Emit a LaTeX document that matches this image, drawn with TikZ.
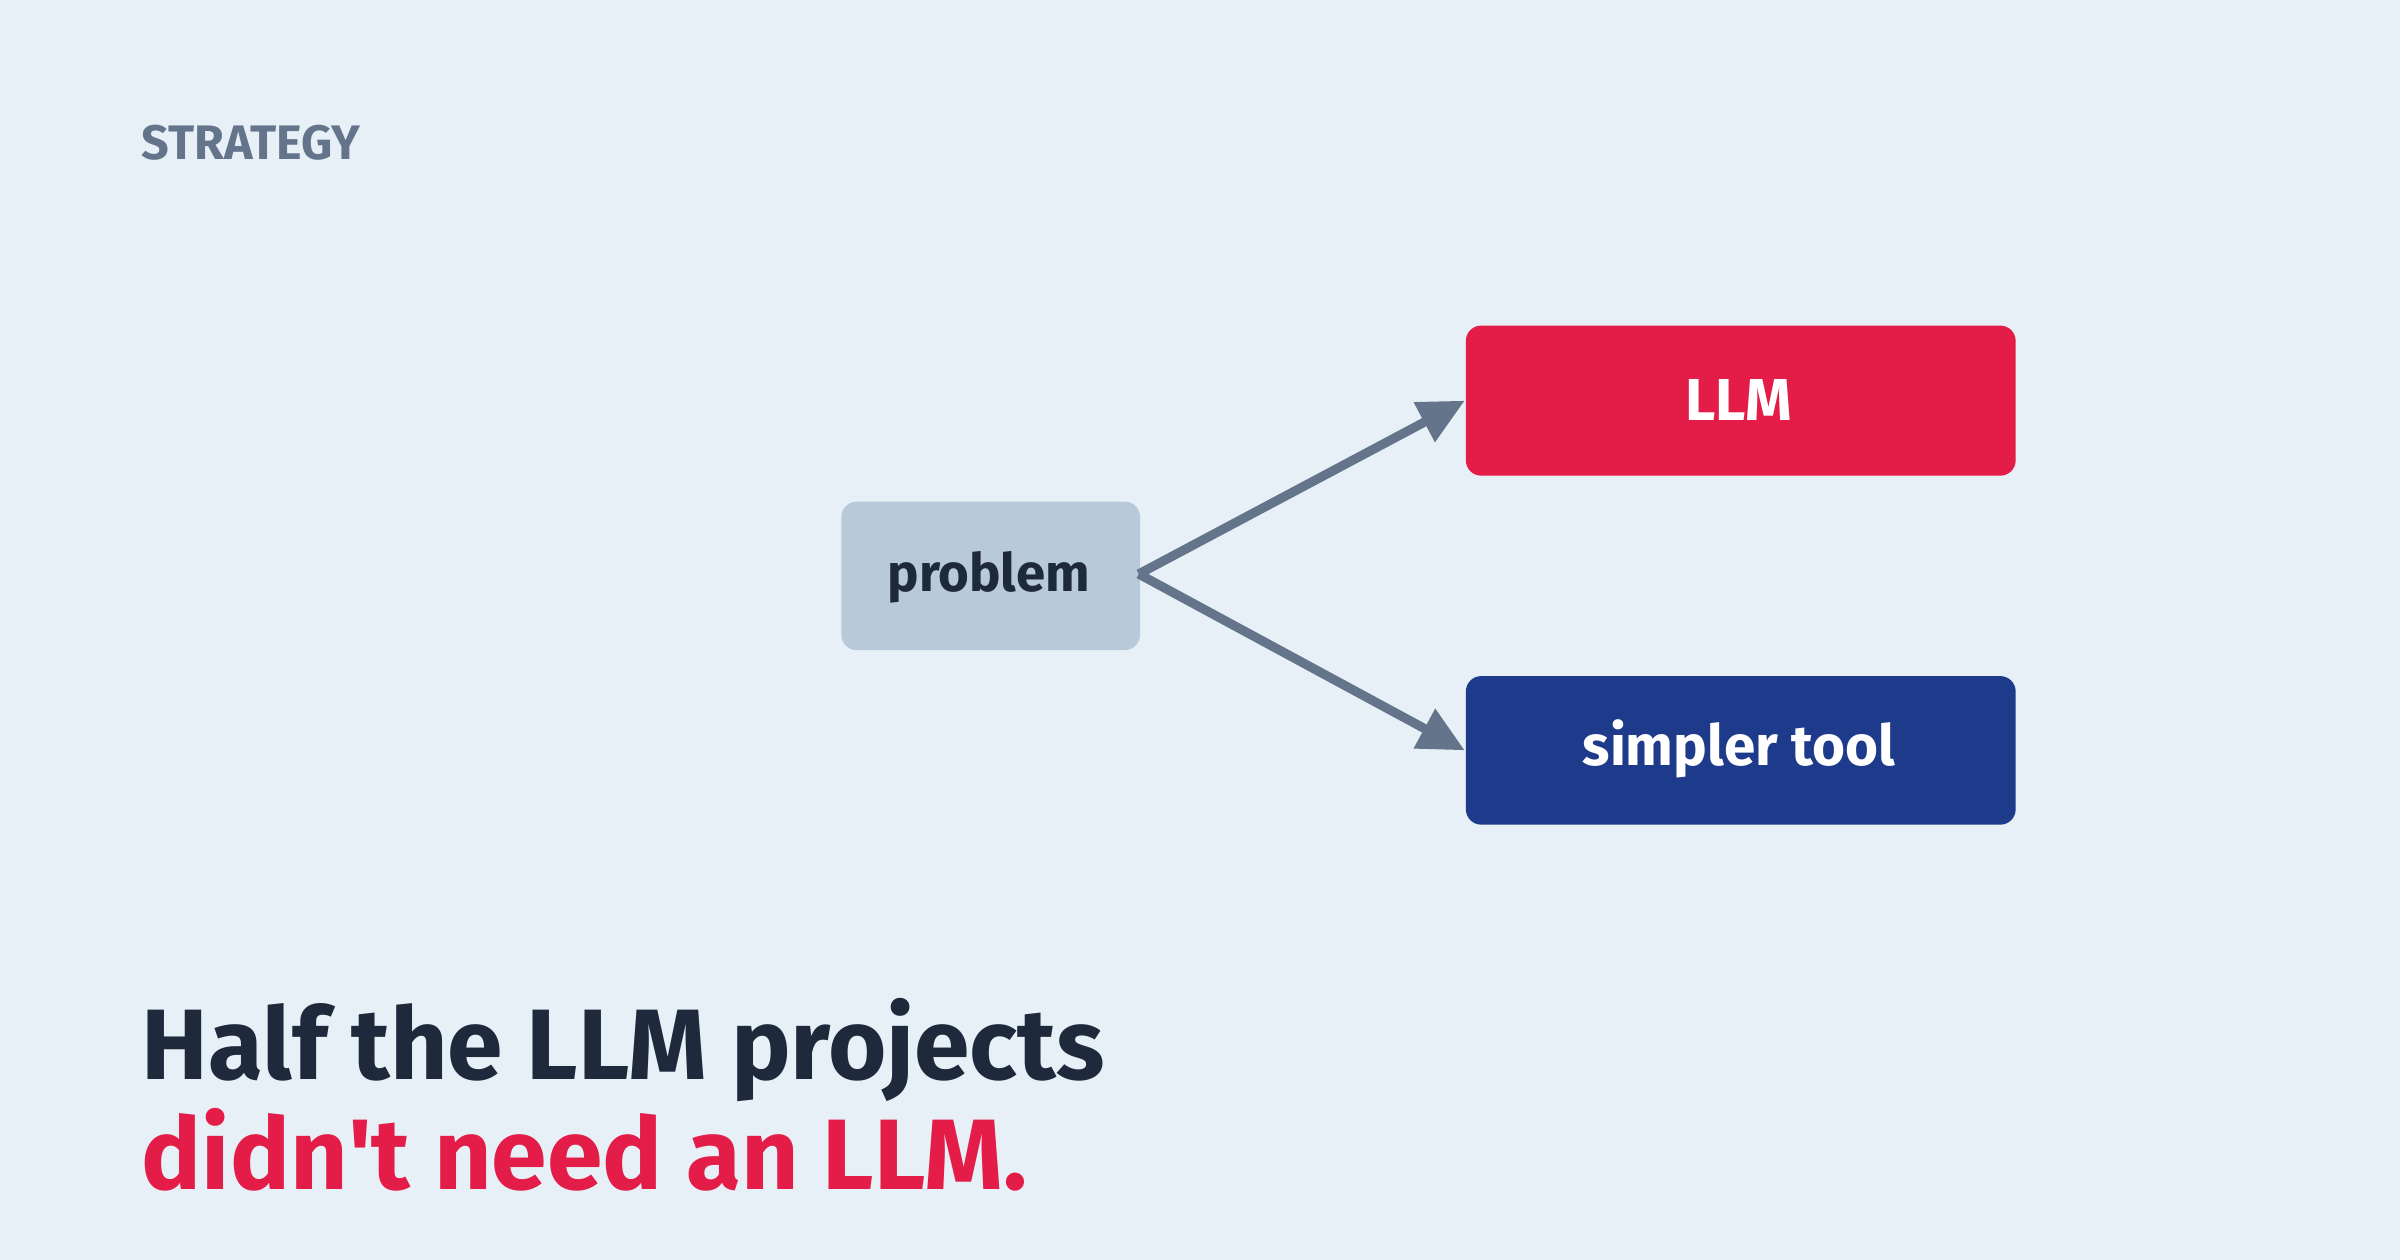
\documentclass[tikz,border=0pt]{standalone}
\usepackage{fontspec}
\setmainfont{Fira Sans}
\usetikzlibrary{arrows.meta}
\definecolor{bg}{HTML}{E8F0F7}
\definecolor{slate}{HTML}{64748B}
\definecolor{dark}{HTML}{1E293B}
\definecolor{llmred}{HTML}{E31C48}
\definecolor{navy}{HTML}{1E3A8A}
\definecolor{probfill}{HTML}{B8C9D9}
\begin{document}
\begin{tikzpicture}[x=0.01cm,y=-0.01cm,
  box/.style={rounded corners=0.1cm,inner sep=0,anchor=north west},
  arr/.style={draw=slate,line width=0.06cm,-{Triangle[length=0.3cm,width=0.28cm]}}]
\fill[bg] (0,0) rectangle (1568,823);
\useasboundingbox (0,0) rectangle (1568,823);
\node[anchor=base west,inner sep=0,text=slate,font=\fontsize{9}{11}\selectfont\bfseries] (tag) at (92,104) {STRATEGY};
\node[box,fill=probfill,minimum width=1.95cm,minimum height=0.97cm] (p) at (549,327) {};
\node[font=\fontsize{9.8}{12}\selectfont\bfseries,text=dark] (pt) at (646,377) {problem};
\node[box,fill=llmred,minimum width=3.59cm,minimum height=0.98cm] (l) at (957,212) {};
\node[font=\fontsize{11}{13}\selectfont\bfseries,text=white] (lt) at (1136,261) {LLM};
\node[box,fill=navy,minimum width=3.59cm,minimum height=0.97cm] (s) at (957,441) {};
\node[font=\fontsize{10.5}{13}\selectfont\bfseries,text=white] (st) at (1136,489) {simpler tool};
\coordinate (o) at (744,375);
\draw[arr] (o) -- (l.west);
\draw[arr] (o) -- (s.west);
\node[anchor=base west,inner sep=0,text=dark,font=\fontsize{18.6}{23}\selectfont\bfseries] (h1) at (92,705) {Half the LLM projects};
\node[anchor=base west,inner sep=0,text=llmred,font=\fontsize{18.6}{23}\selectfont\bfseries] (h2) at (92,777) {didn\textquotesingle t need an LLM.};
\end{tikzpicture}
\end{document}
